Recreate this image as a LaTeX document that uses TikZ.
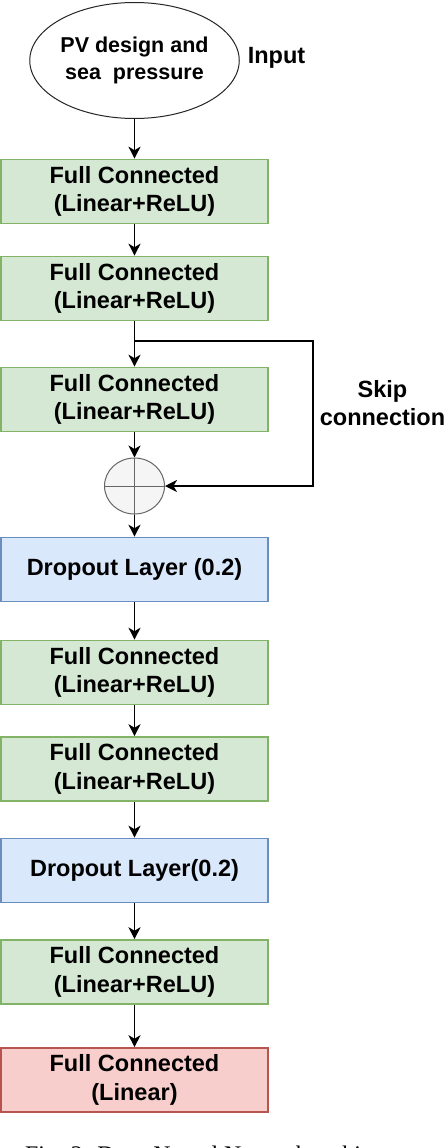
\documentclass[tikz,border=0pt]{standalone}
\usepackage{fontspec}
\setmainfont{Liberation Sans}
\newfontfamily\capfont{Liberation Serif}
\usetikzlibrary{shapes.geometric,arrows.meta}
\definecolor{gfill}{HTML}{D5E8D4}
\definecolor{gline}{HTML}{82B366}
\definecolor{bfill}{HTML}{DAE8FC}
\definecolor{bline}{HTML}{6C8EBF}
\definecolor{rfill}{HTML}{F8CECC}
\definecolor{rline}{HTML}{B85450}
\tikzset{
  layer/.style={rectangle, minimum width=267.5pt, minimum height=64pt, inner sep=0pt,
    line width=1.6pt, align=center, font=\bfseries\fontsize{23.5}{28.5}\selectfont},
  fcbox/.style={layer, fill=gfill, draw=gline},
  dropbox/.style={layer, fill=bfill, draw=bline},
  outbox/.style={layer, fill=rfill, draw=rline},
  lbl/.style={inner sep=0pt, align=center, font=\bfseries\fontsize{23.5}{28.5}\selectfont},
  arr/.style={draw=black, line width=1.3pt, -{Stealth[length=12pt,width=12pt,inset=3.5pt]}},
}
\begin{document}
\begin{tikzpicture}[x=1pt,y=-1pt]
\useasboundingbox (0,0) rectangle (446,1148);
\clip (0,0) rectangle (446,1148);
\node[ellipse, draw=black!85, line width=1pt, fill=white, minimum width=190pt, minimum height=116pt,
  inner sep=0pt, align=center, font=\bfseries\fontsize{21.5}{27}\selectfont] (in) at (134.5,60.5) {PV design and\\sea~ pressure};
\node[lbl] (inlbl) at (276.5,58) {Input};
\node[fcbox] (b1) at (134.5,191.5) {Full Connected\\(Linear+ReLU)};
\node[fcbox] (b2) at (134.5,288.5) {Full Connected\\(Linear+ReLU)};
\node[fcbox] (b3) at (134.5,399.5) {Full Connected\\(Linear+ReLU)};
\node[ellipse, draw=black!60, fill=black!4, line width=1pt, minimum width=60pt, minimum height=56pt, inner sep=0pt] (add) at (134.5,486) {};
\draw[black!60, line width=1pt] (add.north) -- (add.south) (add.west) -- (add.east);
\node[dropbox] (d1) at (134.5,569.5) {Dropout Layer (0.2)};
\node[fcbox] (b5) at (134.5,672.5) {Full Connected\\(Linear+ReLU)};
\node[fcbox] (b6) at (134.5,769) {Full Connected\\(Linear+ReLU)};
\node[dropbox] (d2) at (134.5,870.5) {Dropout Layer(0.2)};
\node[fcbox] (b7) at (134.5,972) {Full Connected\\(Linear+ReLU)};
\node[outbox] (b8) at (134.5,1080) {Full Connected\\(Linear)};
\node[lbl] (skiplbl) at (382.5,403) {Skip\\connection};
\coordinate (sk) at (134.5,341);
\coordinate (skr) at (313,341);
\draw[arr] (in) -- (b1);
\draw[arr] (b1) -- (b2);
\draw[arr] (b2) -- (b3);
\draw[arr] (b3) -- (add);
\draw[arr] (add) -- (d1);
\draw[arr] (d1) -- (b5);
\draw[arr] (b5) -- (b6);
\draw[arr] (b6) -- (d2);
\draw[arr] (d2) -- (b7);
\draw[arr] (b7) -- (b8);
\draw[arr] (sk) -- (skr) |- (add.east);
\node[anchor=base west, inner sep=0pt, font=\capfont\fontsize{23.8}{28}\selectfont] (cap) at (25,1162) {Fig. 2: Deep Neural Network architecture};
\end{tikzpicture}
\end{document}
